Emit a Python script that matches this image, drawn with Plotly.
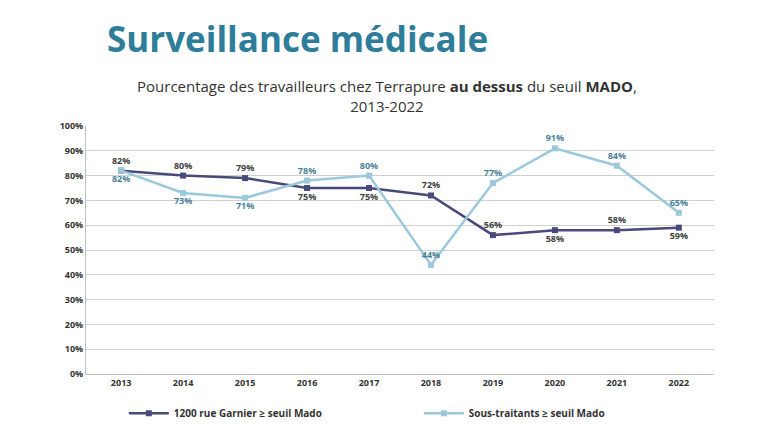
import plotly.graph_objects as go

years = ["2013", "2014", "2015", "2016", "2017", "2018", "2019", "2020", "2021", "2022"]
garnier = [82, 80, 79, 75, 75, 72, 56, 58, 58, 59]
sous_traitants = [82, 73, 71, 78, 80, 44, 77, 91, 84, 65]

dark = "#4a4a7a"
light = "#9cc8dc"

fig = go.Figure()
fig.add_trace(go.Scatter(
    x=years, y=garnier, name="<b>1200 rue Garnier ≥ seuil Mado</b>",
    mode="lines+markers+text", text=[f"<b>{v}%</b>" for v in garnier],
    textposition=["top center", "top center", "top center", "bottom center", "bottom center",
                  "top center", "top center", "bottom center", "top center", "bottom center"],
    textfont=dict(size=9, color="#404040"),
    line=dict(color=dark, width=2.5), marker=dict(symbol="square", size=6, color=dark),
))
fig.add_trace(go.Scatter(
    x=years, y=sous_traitants, name="<b>Sous-traitants ≥ seuil Mado</b>",
    mode="lines+markers+text", text=[f"<b>{v}%</b>" for v in sous_traitants],
    textposition=["bottom center", "bottom center", "bottom center", "top center", "top center",
                  "top center", "top center", "top center", "top center", "top center"],
    textfont=dict(size=9, color="#4a7f9a"),
    line=dict(color=light, width=2.5), marker=dict(symbol="square", size=6, color=light),
))

fig.update_layout(
    width=768, height=432, paper_bgcolor="white", plot_bgcolor="white",
    margin=dict(l=78, r=62, t=118, b=43),
    font=dict(family="Open Sans", size=10, color="#333333"),
    showlegend=True,
    legend=dict(orientation="h", x=0.53, xanchor="center", y=-0.1, yanchor="top",
                font=dict(size=10), itemwidth=40, entrywidth=240, traceorder="normal"),
    annotations=[
        dict(text="Pourcentage des travailleurs chez Terrapure <b>au dessus</b> du seuil <b>MADO</b>,<br>2013-2022",
             xref="paper", yref="paper", x=0.48, y=1.21, showarrow=False,
             font=dict(size=15, color="#333333")),
        dict(text="<b>Surveillance médicale</b>", xref="paper", yref="paper", x=0.03, y=1.455,
             xanchor="left", showarrow=False, font=dict(size=35, color="#2e7d9a")),
    ],
)
fig.update_xaxes(showline=True, linecolor="#bfbfbf", tickfont=dict(size=9),
                 tickprefix="<b>", ticksuffix="</b>")
fig.update_yaxes(range=[0, 100], dtick=10, tickprefix="<b>", ticksuffix="%</b>", gridcolor="#d0d0d0",
                 showline=True, linecolor="#bfbfbf", tickfont=dict(size=9), zeroline=False)

fig.write_html("out.html")
